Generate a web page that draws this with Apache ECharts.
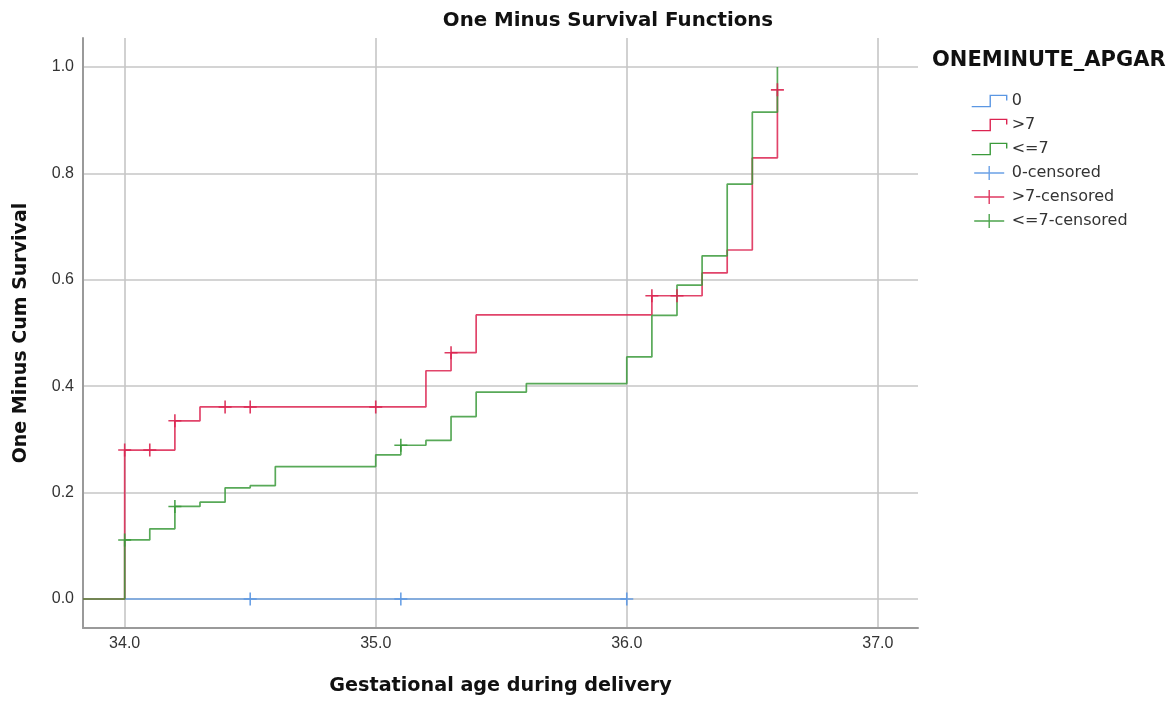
<!DOCTYPE html>
<html>
<head>
<meta charset="utf-8">
<script src="https://cdn.jsdelivr.net/npm/echarts@6/dist/echarts.min.js"></script>
<style>html,body{margin:0;padding:0;background:#fff;}#c{width:1176px;height:704px;}</style>
</head>
<body>
<div id="c"></div>
<script>
// ---- data ----
var xMin = 33.834, xMax = 37.16;
var yMin = -0.0545, yMax = 1.0545;
var xTicks = [34.0, 35.0, 36.0, 37.0];
var yTicks = [0.0, 0.2, 0.4, 0.6, 0.8, 1.0];

var blueTimes = [34.0, 36.0];
var blueVals  = [0.0, 0.0];
var redTimes = [33.834, 34.0, 34.2, 34.3, 35.2, 35.3, 35.4, 36.1, 36.3, 36.4, 36.5, 36.6];
var redVals  = [0.0, 0.280, 0.335, 0.361, 0.429, 0.463, 0.534, 0.570, 0.613, 0.656, 0.829, 0.957];
var greenTimes = [33.834, 34.0, 34.1, 34.2, 34.3, 34.4, 34.5, 34.6, 35.0, 35.1, 35.2, 35.3, 35.4, 35.6, 36.0, 36.1, 36.2, 36.3, 36.4, 36.5, 36.6];
var greenVals  = [0.0, 0.111, 0.132, 0.174, 0.182, 0.209, 0.213, 0.249, 0.271, 0.289, 0.298, 0.343, 0.389, 0.405, 0.455, 0.533, 0.590, 0.645, 0.780, 0.915, 1.0];

var blueCensT = [34.5, 35.1, 36.0];
var blueCensV = [0.0, 0.0, 0.0];
var redCensT = [34.0, 34.1, 34.2, 34.4, 34.5, 35.0, 35.3, 36.1, 36.2, 36.6];
var redCensV = [0.280, 0.280, 0.335, 0.361, 0.361, 0.361, 0.463, 0.570, 0.570, 0.957];
var greenCensT = [34.0, 34.2, 35.1];
var greenCensV = [0.111, 0.174, 0.289];

var names = ['0', '>7', '<=7', '0-censored', '>7-censored', '<=7-censored'];
// ---- end data ----

var BLUE = '#5b97e3', RED = '#dc2350', GREEN = '#3b9a3b';
var TITLE_FONT = 'DejaVu Sans, sans-serif';
var TEXT_FONT = 'Liberation Sans, Arial, sans-serif';
function zip(a, b) { return a.map(function (v, i) { return [v, b[i]]; }); }

var stepIcon = 'path://M0,12 L18,12 L18,1 L34,1 L34,6';
var plusIcon = 'path://M0,7 L30,7 M15,0 L15,14';
var plusSym = 'path://M0,6 L12,6 M6,0 L6,12';

function stepSeries(name, t, v, col, z) {
  return { name: name, type: 'line', step: 'end', data: zip(t, v), symbol: 'none',
    lineStyle: { color: col, width: 1.7, opacity: 0.85 }, itemStyle: { color: col }, z: z, clip: true, silent: true };
}
function censSeries(name, t, v, col, z) {
  return { name: name, type: 'scatter', data: zip(t, v), symbol: plusSym, symbolSize: 13,
    itemStyle: { color: 'rgba(0,0,0,0)', borderColor: col, borderWidth: 1.6, opacity: 0.9 }, z: z, silent: true };
}

var chart = echarts.init(document.getElementById('c'), null, { renderer: 'canvas' });
var legendCols = [BLUE, RED, GREEN, BLUE, RED, GREEN];
chart.setOption({
  animation: false,
  backgroundColor: '#ffffff',
  title: [
    { text: 'One Minus Survival Functions', left: 603, top: 6, textAlign: 'center',
      textStyle: { fontFamily: TITLE_FONT, fontSize: 19.8, fontWeight: 'bold', color: '#111' } },
    { text: 'ONEMINUTE_APGAR', left: 927, top: 45,
      textStyle: { fontFamily: TITLE_FONT, fontSize: 21, fontWeight: 'bold', color: '#111' } }
  ],
  legend: {
    orient: 'vertical', left: 966, top: 88, itemGap: 8, itemWidth: 35, itemHeight: 14,
    textStyle: { fontFamily: 'DejaVu Sans, sans-serif', fontSize: 16, color: '#333', padding: [0, 0, 0, 0] },
    selectedMode: false,
    data: names.map(function (n, i) {
      return { name: n, icon: i < 3 ? stepIcon : plusIcon,
        itemStyle: { color: 'rgba(0,0,0,0)', borderColor: legendCols[i], borderWidth: 1.4 } };
    })
  },
  grid: { left: 83, right: 258, top: 38, bottom: 76, containLabel: false },
  xAxis: {
    type: 'value', min: xMin, max: xMax,
    name: 'Gestational age during delivery', nameLocation: 'middle', nameGap: 49,
    nameTextStyle: { fontFamily: TITLE_FONT, fontSize: 19.2, fontWeight: 'bold', color: '#111' },
    axisLine: { show: true, onZero: false, lineStyle: { color: '#9a9a9a', width: 2 } },
    axisTick: { show: false, customValues: xTicks },
    axisLabel: { customValues: xTicks, margin: 8, fontFamily: TEXT_FONT, fontSize: 16, color: '#333',
      formatter: function (v) { return v.toFixed(1); } },
    splitLine: { show: true, lineStyle: { color: '#c6c6c6', width: 1.6 } }
  },
  yAxis: {
    type: 'value', min: yMin, max: yMax,
    name: 'One Minus Cum Survival', nameLocation: 'middle', nameGap: 52,
    nameTextStyle: { fontFamily: TITLE_FONT, fontSize: 19, fontWeight: 'bold', color: '#111' },
    axisLine: { show: true, onZero: false, lineStyle: { color: '#9a9a9a', width: 2 } },
    axisTick: { show: false, customValues: yTicks },
    axisLabel: { customValues: yTicks, margin: 9, fontFamily: TEXT_FONT, fontSize: 16, color: '#333',
      formatter: function (v) { return v.toFixed(1); } },
    splitLine: { show: true, lineStyle: { color: '#c6c6c6', width: 1.6 } }
  },
  series: [
    stepSeries(names[0], blueTimes, blueVals, BLUE, 2),
    stepSeries(names[1], redTimes, redVals, RED, 3),
    stepSeries(names[2], greenTimes, greenVals, GREEN, 4),
    censSeries(names[3], blueCensT, blueCensV, BLUE, 5),
    censSeries(names[4], redCensT, redCensV, RED, 6),
    censSeries(names[5], greenCensT, greenCensV, GREEN, 7)
  ]
});
</script>
</body>
</html>
